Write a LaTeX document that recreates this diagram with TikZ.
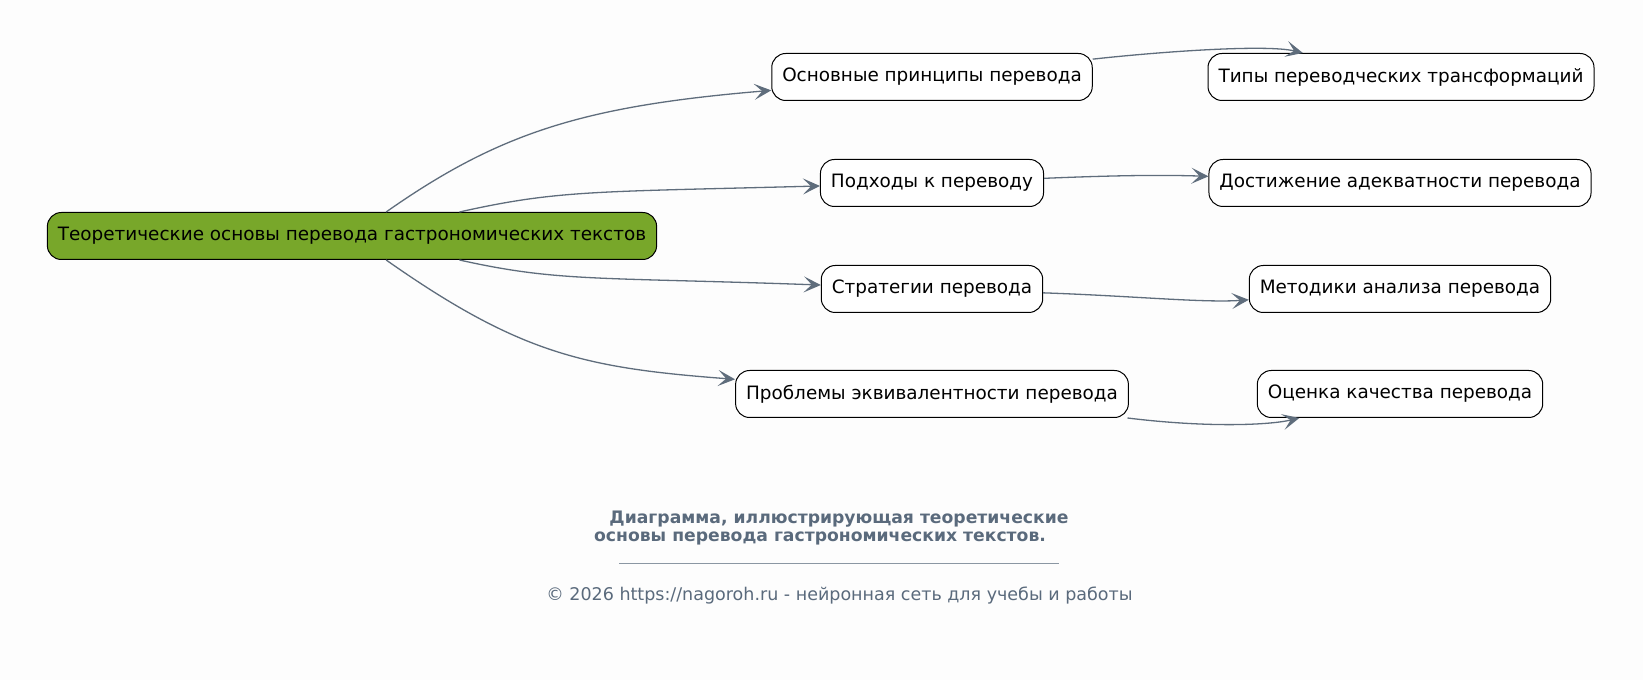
\documentclass[tikz,border=0pt]{standalone}
\usepackage{fontspec}
\setmainfont{DejaVu Sans}
\usetikzlibrary{arrows.meta, positioning}

\definecolor{rootgreen}{RGB}{120,167,42}
\definecolor{edgegray}{RGB}{95,109,124}
\definecolor{captiongray}{RGB}{90,106,124}
\definecolor{pagewhite}{RGB}{253,253,253}

\begin{document}
\begin{tikzpicture}[
    x=1pt, y=1pt,
    topic/.style={rectangle, rounded corners=14pt, draw=black, line width=1pt,
        fill=white, minimum height=47pt, inner xsep=10.5pt,
        font=\fontsize{18.4}{22}\selectfont},
    rootnode/.style={topic, fill=rootgreen},
    link/.style={-{Stealth[length=17pt, width=16pt, inset=8pt]},
        draw=edgegray, line width=1.3pt},
    caption/.style={align=center, text=captiongray,
        font=\bfseries\fontsize{17.2}{18.5}\selectfont}
]

\fill[pagewhite] (0,0) rectangle (1643,680);
\useasboundingbox (0,0) rectangle (1643,680);

% Nodes ------------------------------------------------------

\node[rootnode] (root) at (352,444) {Теоретические основы перевода гастрономических текстов};

\node[topic] (basics) at (932,603) {Основные принципы перевода};
\node[topic] (approaches) at (932,497) {Подходы к переводу};
\node[topic] (strategies) at (932,391) {Стратегии перевода};
\node[topic] (problems) at (932,286) {Проблемы эквивалентности перевода};

\node[topic] (types) at (1401,603) {Типы переводческих трансформаций};
\node[topic] (adequacy) at (1400,497) {Достижение адекватности перевода};
\node[topic] (methods) at (1400,391) {Методики анализа перевода};
\node[topic] (quality) at (1400,286) {Оценка качества перевода};

\node[caption] (title) at (839,152) {Диаграмма, иллюстрирующая теоретические\\основы перевода гастрономических текстов.\hspace*{38pt}};
\draw[captiongray!70, line width=0.8pt] (619,117) -- (1059,117);
\node[text=captiongray, font=\fontsize{17.5}{20}\selectfont] (credit) at (839.5,84) {© 2026 https://nagoroh.ru - нейронная сеть для учебы и работы};

% Arrows ---------------------------------------------------

\draw[link] (root) .. controls (500,548) and (585,574) .. (basics);
\draw[link] (root) .. controls (558,490) and (593,488) .. (approaches);
\draw[link] (root) .. controls (558,398) and (596,403) .. (strategies);
\draw[link] (root) .. controls (520,326) and (585,312) .. (problems);

\draw[link] (basics) .. controls (1157,628) and (1266,636) .. (types);
\draw[link] (approaches) .. controls (1100,504) and (1155,505.5) .. (adequacy);
\draw[link] (strategies) .. controls (1134,384) and (1204,377) .. (methods);
\draw[link] (problems) .. controls (1209,252) and (1270,255) .. (quality);

\end{tikzpicture}
\end{document}
